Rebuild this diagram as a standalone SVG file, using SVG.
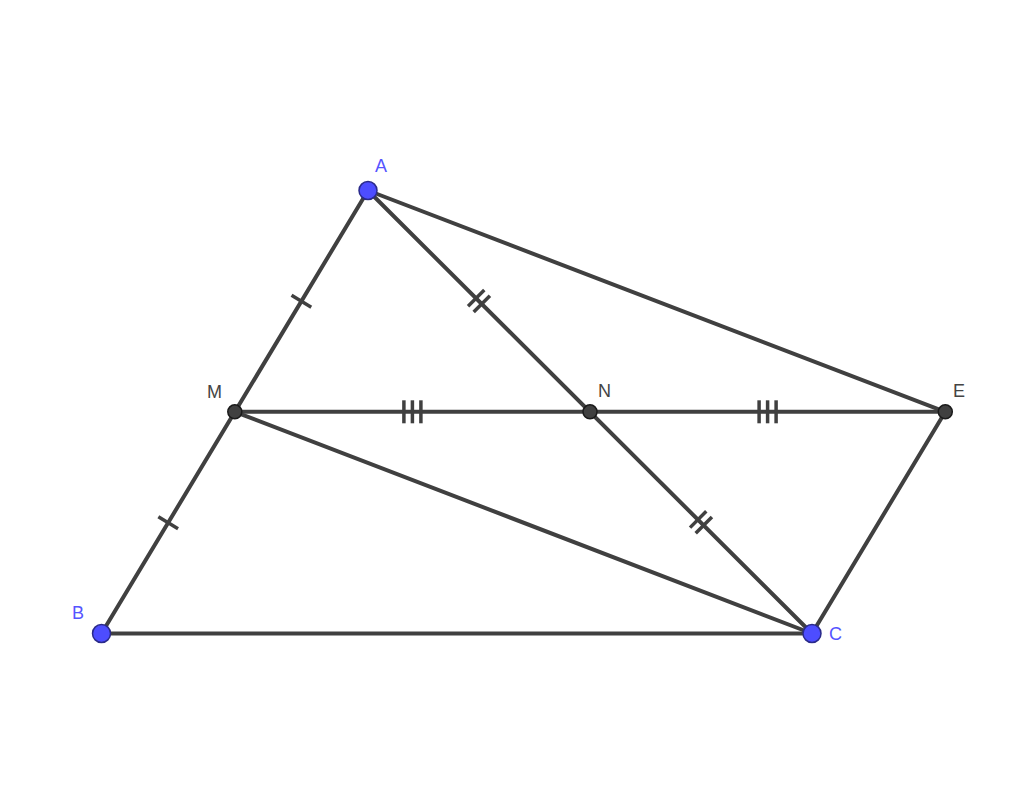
<svg xmlns="http://www.w3.org/2000/svg" width="1024" height="812" viewBox="0 0 1024 812">
<style>
.seg{stroke:#404040;stroke-width:4;stroke-linecap:round;fill:none}
.tick{stroke:#404040;stroke-width:3.5;fill:none}
.free{fill:#4d4dff;stroke:#2a2a8a;stroke-width:1.5}
.dep{fill:#404040;stroke:#1a1a1a;stroke-width:1.5}
.lb{font-family:"Liberation Sans",Arial,sans-serif;font-size:18px}
.lblue{fill:#5555ff}
.lgray{fill:#444444}
</style>
<rect width="1024" height="812" fill="#ffffff"/>
<g id="connectors">
<line class="seg" x1="368" y1="190.5" x2="101.5" y2="633.5"/>
<line class="seg" x1="101.5" y1="633.5" x2="812" y2="633.5"/>
<line class="seg" x1="368" y1="190.5" x2="812" y2="633.5"/>
<line class="seg" x1="368" y1="190.5" x2="945.3" y2="411.8"/>
<line class="seg" x1="234.8" y1="411.8" x2="945.3" y2="411.8"/>
<line class="seg" x1="234.8" y1="411.8" x2="812" y2="633.5"/>
<line class="seg" x1="945.3" y1="411.8" x2="812" y2="633.5"/>
<g id="ticks">
<g transform="translate(301.4,301.2) rotate(121.03)"><line class="tick" x1="0" y1="-11.5" x2="0" y2="11.5"/></g>
<g transform="translate(168.2,522.7) rotate(121.03)"><line class="tick" x1="0" y1="-11.5" x2="0" y2="11.5"/></g>
<g transform="translate(479,301) rotate(44.94)"><line class="tick" x1="-4" y1="-11.5" x2="-4" y2="11.5"/><line class="tick" x1="4" y1="-11.5" x2="4" y2="11.5"/></g>
<g transform="translate(701,522.3) rotate(44.94)"><line class="tick" x1="-4" y1="-11.5" x2="-4" y2="11.5"/><line class="tick" x1="4" y1="-11.5" x2="4" y2="11.5"/></g>
<g transform="translate(412.4,411.8)"><line class="tick" x1="-8.5" y1="-11.5" x2="-8.5" y2="11.5"/><line class="tick" x1="0" y1="-11.5" x2="0" y2="11.5"/><line class="tick" x1="8.5" y1="-11.5" x2="8.5" y2="11.5"/></g>
<g transform="translate(767.6,411.8)"><line class="tick" x1="-8.5" y1="-11.5" x2="-8.5" y2="11.5"/><line class="tick" x1="0" y1="-11.5" x2="0" y2="11.5"/><line class="tick" x1="8.5" y1="-11.5" x2="8.5" y2="11.5"/></g>
</g>
</g>
<g id="A"><circle class="free" cx="368" cy="190.5" r="9"/><text class="lb lblue" x="375" y="172">A</text></g>
<g id="B"><circle class="free" cx="101.5" cy="633.5" r="9"/><text class="lb lblue" x="72" y="619">B</text></g>
<g id="C"><circle class="free" cx="812" cy="633.5" r="9"/><text class="lb lblue" x="829" y="640">C</text></g>
<g id="M"><circle class="dep" cx="234.8" cy="411.8" r="7"/><text class="lb lgray" x="207" y="398">M</text></g>
<g id="N"><circle class="dep" cx="590" cy="411.8" r="7"/><text class="lb lgray" x="598" y="397">N</text></g>
<g id="E"><circle class="dep" cx="945.3" cy="411.8" r="7"/><text class="lb lgray" x="953" y="397">E</text></g>
</svg>
